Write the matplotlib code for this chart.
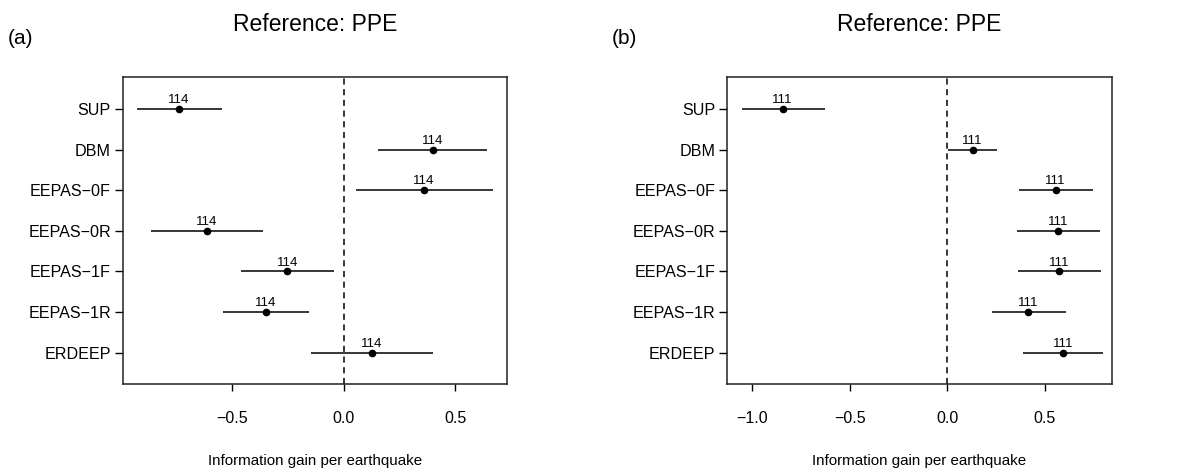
import matplotlib
matplotlib.use("Agg")
import matplotlib.pyplot as plt

plt.rcParams['font.family'] = ['Liberation Sans', 'DejaVu Sans']

models = ["SUP", "DBM", "EEPAS\u22120F", "EEPAS\u22120R", "EEPAS\u22121F", "EEPAS\u22121R", "ERDEEP"]

# panel (a)
gain_a = [-0.740, 0.400, 0.361, -0.615, -0.253, -0.350, 0.126]
low_a = [-0.930, 0.156, 0.055, -0.867, -0.463, -0.542, -0.148]
high_a = [-0.548, 0.645, 0.672, -0.364, -0.045, -0.154, 0.400]
n_a = [114] * 7

# panel (b)
gain_b = [-0.843, 0.130, 0.555, 0.568, 0.573, 0.415, 0.594]
low_b = [-1.053, 0.005, 0.365, 0.355, 0.362, 0.227, 0.389]
high_b = [-0.626, 0.254, 0.748, 0.782, 0.787, 0.608, 0.799]
n_b = [111] * 7

fig = plt.figure(figsize=(11.81, 4.72), dpi=100)
ax_a = fig.add_axes([0.1039, 0.1858, 0.3257, 0.6504])
ax_b = fig.add_axes([0.6156, 0.1858, 0.3257, 0.6504])


def panel(ax, gain, low, high, n, xlim, xticks):
    ypos = list(range(len(models)))
    ax.axvline(0, color='black', linestyle=(0, (4, 3)), linewidth=1.1)
    ax.hlines(ypos, low, high, color='black', linewidth=1.1)
    ax.plot(gain, ypos, 'o', color='black', markersize=4.5)
    for g, y, k in zip(gain, ypos, n):
        ax.annotate(str(k), (g, y), xytext=(0, 2), textcoords='offset points',
                    ha='center', va='bottom', fontsize=9.5)
    ax.set_xlim(*xlim)
    ax.set_ylim(len(models) - 1 + 0.78, -0.78)
    ax.set_yticks(ypos)
    ax.set_yticklabels(models, fontsize=11.6)
    ax.set_xticks(xticks)
    ax.set_xticklabels([f"{t:.1f}".replace("-", "\u2212") for t in xticks], fontsize=11.5)
    ax.tick_params(axis='x', length=5, width=1, pad=14)
    ax.tick_params(axis='y', length=5.5, width=1, pad=3)
    for s in ax.spines.values():
        s.set_linewidth(1.1)
        s.set_color('#222222')
    ax.set_xlabel("Information gain per earthquake", fontsize=10.9)
    ax.xaxis.set_label_coords(0.5, -0.25)
    ax.xaxis.label.set_va('center')
    ax.set_title("Reference: PPE", fontsize=16.5, pad=33)


panel(ax_a, gain_a, low_a, high_a, n_a, (-0.9925, 0.7347), [-0.5, 0.0, 0.5])
panel(ax_b, gain_b, low_b, high_b, n_b, (-1.128, 0.842), [-1.0, -0.5, 0.0, 0.5])

fig.text(8 / 1181, 1 - 38 / 472, "(a)", fontsize=15, va='center', ha='left')
fig.text(612 / 1181, 1 - 38 / 472, "(b)", fontsize=15, va='center', ha='left')

fig.savefig("out.png", dpi=100)
